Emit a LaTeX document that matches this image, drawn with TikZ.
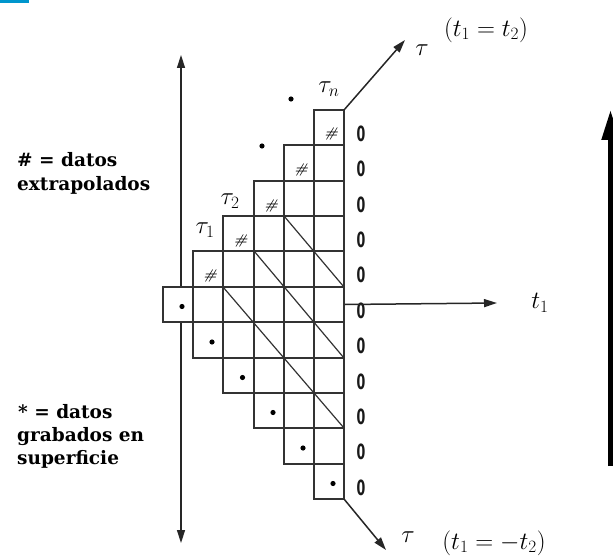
\documentclass[tikz,border=0pt]{standalone}
\usepackage{fontspec}
\newfontfamily\lblfont{DejaVu Serif}
\newfontfamily\zerofont{DejaVu Sans}
\usetikzlibrary{arrows.meta}
\tikzset{
  gridline/.style={draw=black!80, line width=2pt},
  cellbox/.style={gridline, fill=white},
  diagline/.style={draw=black!80, line width=1.2pt},
  axisline/.style={draw=black!85, line width=1.5pt, -{Triangle[length=13pt,width=8pt]}},
  bothaxis/.style={draw=black!85, line width=1.5pt, {Triangle[length=13pt,width=8pt]}-{Triangle[length=13pt,width=8pt]}},
  legend/.style={font=\lblfont\bfseries\fontsize{18.5}{23}\selectfont, anchor=base west, inner sep=0pt},
  zerolbl/.style={font=\zerofont\bfseries\fontsize{21}{21}\selectfont, xscale=0.6, inner sep=0pt, text=black!90},
  hashlbl/.style={font=\bfseries\fontsize{14}{14}\selectfont, inner sep=0pt, xslant=0.3},
  taulbl/.style={font=\fontsize{24}{24}\selectfont, inner sep=0pt},
  eqlbl/.style={font=\fontsize{24}{24}\selectfont, inner sep=0pt},
  dotmark/.style={fill=black, draw=none}
}
\def\xlist{{163,193,223,254,284,314,344}}
\def\ylist{{110,145,181,216,251,287,322,358,393,428,464,499}}
\begin{document}
\begin{tikzpicture}[x=1pt,y=-1pt]
\path[use as bounding box] (0,0) rectangle (613,559);
% blue bar
\fill[fill={rgb,255:red,0;green,150;blue,205}] (0,0) rectangle (29,3.5);

% vertical axis (left)
\coordinate (vtop) at (181,55);
\coordinate (vbot) at (181,543);
\draw[bothaxis] (vbot) -- (vtop);

% grid cells
\foreach \j in {0,...,5}{
  \pgfmathtruncatemacro\jn{\j+1}
  \pgfmathsetmacro\xa{\xlist[\j]}
  \pgfmathsetmacro\xb{\xlist[\jn]}
  \pgfmathtruncatemacro\ifirst{5-\j}
  \pgfmathtruncatemacro\ilast{5+\j}
  \foreach \i in {\ifirst,...,\ilast}{
    \pgfmathtruncatemacro\inx{\i+1}
    \pgfmathsetmacro\ya{\ylist[\i]}
    \pgfmathsetmacro\yb{\ylist[\inx]}
    \draw[cellbox] (\xa,\ya) rectangle (\xb,\yb);
  }
}

% corner coordinates
\coordinate (gTR) at (344,110);
\coordinate (gBR) at (344,499);
\coordinate (gMR) at (345,304.5);

% diagonals
\draw[diagline] (284,216) -- (344,287);
\draw[diagline] (254,251) -- (344,358);
\draw[diagline] (223,287) -- (344,428);

% hash marks in top cells of columns 1..5
\foreach \j in {1,...,5}{
  \pgfmathtruncatemacro\jn{\j+1}
  \pgfmathtruncatemacro\ia{5-\j}
  \pgfmathtruncatemacro\ib{6-\j}
  \pgfmathsetmacro\xa{\xlist[\j]}
  \pgfmathsetmacro\xb{\xlist[\jn]}
  \pgfmathsetmacro\ya{\ylist[\ia]}
  \pgfmathsetmacro\yb{\ylist[\ib]}
  \pgfmathsetmacro\cx{(\xa+\xb)/2+3}
  \pgfmathsetmacro\cy{(\ya+\yb)/2+7}
  \node[hashlbl] (h\j) at (\cx,\cy) {\#};
}
% dots in bottom cells of columns 0..5
\foreach \j in {0,...,5}{
  \pgfmathtruncatemacro\jn{\j+1}
  \pgfmathtruncatemacro\ia{5+\j}
  \pgfmathtruncatemacro\ib{6+\j}
  \pgfmathsetmacro\xa{\xlist[\j]}
  \pgfmathsetmacro\xb{\xlist[\jn]}
  \pgfmathsetmacro\ya{\ylist[\ia]}
  \pgfmathsetmacro\yb{\ylist[\ib]}
  \pgfmathsetmacro\cx{(\xa+\xb)/2+4}
  \pgfmathsetmacro\cy{(\ya+\yb)/2+2}
  \fill[dotmark] (\cx,\cy) circle (2.6);
}
% ellipsis dots
\fill[dotmark] (262,146) circle (2.6);
\fill[dotmark] (291,99) circle (2.6);

% zeros
\foreach \i in {0,...,10}{
  \pgfmathtruncatemacro\inx{\i+1}
  \pgfmathsetmacro\ya{\ylist[\i]}
  \pgfmathsetmacro\yb{\ylist[\inx]}
  \pgfmathsetmacro\cy{(\ya+\yb)/2+6}
  \node[zerolbl] (z\i) at (361,\cy) {0};
}

% tau labels on staircase
\node[taulbl] (tau1) at (205,230) {$\tau_{1}$};
\node[taulbl] (tau2) at (230,201) {$\tau_{2}$};
\node[taulbl] (taun) at (329,89) {$\tau_{n}$};

% axes
\coordinate (tauup) at (405,40);
\coordinate (taudown) at (386,550);
\coordinate (t1end) at (497,303);
\draw[axisline] (gTR) -- (tauup);
\draw[axisline] (gBR) -- (taudown);
\draw[axisline] (gMR) -- (t1end);

\node[taulbl] (tauU) at (422,50) {$\tau$};
\node[taulbl] (tauD) at (408,537) {$\tau$};
\node[taulbl] (t1lbl) at (540,303) {$t_{1}$};
\node[eqlbl] (eqU) at (486,30) {$(t_{1}\;{=}\;t_{2})$};
\node[eqlbl] (eqD) at (494,543) {$(t_{1}\;{=}\;{-}t_{2})$};

% right thick arrow
\coordinate (rtop) at (610.5,110);
\coordinate (rbot) at (610.5,466);
\draw[draw=black, line width=5pt, -{Triangle[length=30pt,width=17pt]}] (rbot) -- (rtop);

% legends
\node[legend] (lg1) at (17,167) {\# = datos};
\node[legend] (lg2) at (17,190) {extrapolados};
\node[legend] (lg3) at (18,418) {* = datos};
\node[legend] (lg4) at (17,441) {grabados en};
\node[legend] (lg5) at (17,464) {superficie};
\end{tikzpicture}
\end{document}
